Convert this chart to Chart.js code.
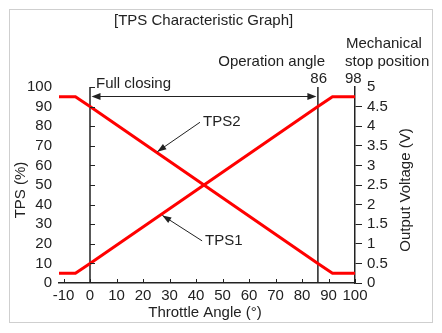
<!DOCTYPE html>
<html><head><meta charset="utf-8">
<script src="https://cdn.jsdelivr.net/npm/chart.js@4"></script>
<style>html,body{margin:0;padding:0;background:#fff;overflow:hidden}#wrap{width:442px;height:333px}</style>
</head><body><div id="wrap"><canvas id="c" width="442" height="333"></canvas></div>
<script>
// ---- data ----
const chartTitle = '[TPS Characteristic Graph]';
const xTitle = 'Throttle Angle (°)';
const yLeftTitle = 'TPS (%)';
const yRightTitle = 'Output Voltage (V)';
const xTicks = [-10, 0, 10, 20, 30, 40, 50, 60, 70, 80, 90, 100];
const yLeftTicks = [0, 10, 20, 30, 40, 50, 60, 70, 80, 90, 100];
const yRightTicks = [0, 0.5, 1, 1.5, 2, 2.5, 3, 3.5, 4, 4.5, 5];
const tps1Angles = [-11.7, -5.5, 0, 86, 91.5, 100];
const tps1Values = [5, 5, 10, 90, 95, 95];
const tps2Angles = [-11.7, -5.5, 0, 86, 91.5, 100];
const tps2Values = [95, 95, 90, 10, 5, 5];
const markerAngles = [0, 86];
const rangeLabel = 'Full closing';
const operationLabel = ['Operation angle', '86'];
const stopLabel = ['Mechanical', 'stop position', '98'];
const seriesNames = ['TPS1', 'TPS2'];

// ---- styles ----
const F = '"Liberation Sans", Arial, Helvetica, sans-serif';
const ink = '#222';
const red = '#ff0000';

function pts(xs, ys) { return xs.map((v, i) => ({ x: v, y: ys[i] })); }

function head(c, fx, fy, tx, ty, len, hw) {
  const a = Math.atan2(ty - fy, tx - fx);
  c.beginPath();
  c.moveTo(tx, ty);
  c.lineTo(tx - len * Math.cos(a) + hw * Math.sin(a), ty - len * Math.sin(a) - hw * Math.cos(a));
  c.lineTo(tx - len * Math.cos(a) - hw * Math.sin(a), ty - len * Math.sin(a) + hw * Math.cos(a));
  c.closePath();
  c.fill();
}

const decor = {
  id: 'decor',
  beforeDraw(chart) {
    const c = chart.ctx;
    c.save();
    c.fillStyle = '#fff';
    c.fillRect(0, 0, chart.width, chart.height);
    c.strokeStyle = '#cfcfcf';
    c.lineWidth = 1;
    c.strokeRect(9.5, 9.5, 423, 313);
    c.restore();
  },
  afterDraw(chart) {
    const c = chart.ctx;
    const x = chart.scales.x, y = chart.scales.y;
    c.save();
    c.strokeStyle = ink; c.fillStyle = ink; c.lineWidth = 1;
    // tick marks on the 0° line and bottom axis
    const x0 = x.getPixelForValue(markerAngles[0]);
    const yb = y.getPixelForValue(0);
    c.beginPath();
    yLeftTicks.forEach(v => {
      if (v === 0) return;
      const py = Math.round(y.getPixelForValue(v)) + 0.5;
      c.moveTo(x0, py); c.lineTo(x0 + 5, py);
    });
    xTicks.forEach(v => {
      const px = Math.round(x.getPixelForValue(v)) + 0.5;
      c.moveTo(px, yb); c.lineTo(px, yb - 4);
    });
    c.stroke();

    // double-headed range arrow
    const ay = Math.round(y.getPixelForValue(95.5)) + 0.5;
    const xa = x.getPixelForValue(markerAngles[0]) + 1.5;
    const xb = x.getPixelForValue(markerAngles[1]) - 1.5;
    c.beginPath(); c.moveTo(xa + 4, ay); c.lineTo(xb - 4, ay); c.stroke();
    head(c, xb - 10, ay, xa, ay, 9, 3.5);
    head(c, xa + 10, ay, xb, ay, 9, 3.5);

    // callouts
    const callouts = [
      { text: seriesNames[1], tail: { x: 41.5, y: 82 }, tip: { x: 25.4, y: 67 } },
      { text: seriesNames[0], tail: { x: 42.3, y: 21.5 }, tip: { x: 27.3, y: 34.5 } }
    ];
    c.font = '15px ' + F;
    c.textBaseline = 'middle';
    callouts.forEach(co => {
      const tx = x.getPixelForValue(co.tail.x), ty = y.getPixelForValue(co.tail.y);
      const px = x.getPixelForValue(co.tip.x), py = y.getPixelForValue(co.tip.y);
      c.beginPath(); c.moveTo(tx, ty); c.lineTo(px, py); c.stroke();
      head(c, tx, ty, px, py, 9, 3.2);
      c.textAlign = 'left';
      c.fillText(co.text, tx + 3, ty);
    });

    // texts
    c.textAlign = 'left';
    c.fillText(chartTitle, 114, 21);
    c.fillText(rangeLabel, 96, 84);
    c.textAlign = 'right';
    c.fillText(operationLabel[0], 325, 62);
    c.fillText(operationLabel[1], 327, 79);
    c.textAlign = 'left';
    c.fillText(stopLabel[0], 346, 44);
    c.fillText(stopLabel[1], 345, 62);
    c.fillText(stopLabel[2], 345, 79);

    // axis titles
    c.textAlign = 'center';
    c.fillText(xTitle, 205, 313);
    c.save(); c.translate(21, 190); c.rotate(-Math.PI / 2); c.fillText(yLeftTitle, 0, 0); c.restore();
    c.save(); c.translate(406, 190); c.rotate(-Math.PI / 2); c.fillText(yRightTitle, 0, 0); c.restore();
    c.restore();
  }
};

new Chart(document.getElementById('c'), {
  type: 'scatter',
  data: {
    datasets: [
      { label: seriesNames[0], data: pts(tps1Angles, tps1Values), showLine: true, borderColor: red, borderWidth: 3, pointRadius: 0, yAxisID: 'y' },
      { label: seriesNames[1], data: pts(tps2Angles, tps2Values), showLine: true, borderColor: red, borderWidth: 3, pointRadius: 0, yAxisID: 'y' },
      ...markerAngles.map(a => ({ data: [{ x: a, y: 0 }, { x: a, y: 100 }], showLine: true, borderColor: ink, borderWidth: 1.5, pointRadius: 0, yAxisID: 'y' }))
    ]
  },
  options: {
    responsive: false,
    devicePixelRatio: 1,
    animation: false,
    layout: { padding: { top: 87, left: 0, right: 0, bottom: 0 } },
    plugins: { legend: { display: false }, tooltip: { enabled: false }, title: { display: false } },
    scales: {
      x: {
        type: 'linear', position: 'bottom', min: -11.7, max: 100,
        afterBuildTicks: s => { s.ticks = xTicks.map(v => ({ value: v })); },
        afterFit: s => { s.height = 50; },
        grid: { display: false, drawTicks: false },
        border: { display: true, color: ink, width: 1.5 },
        ticks: { color: ink, font: { family: F, size: 15 }, padding: 4, maxRotation: 0, autoSkip: false }
      },
      y: {
        type: 'linear', position: 'left', min: 0, max: 100,
        afterBuildTicks: s => { s.ticks = yLeftTicks.map(v => ({ value: v })); },
        afterFit: s => { s.width = 59; },
        grid: { display: false, drawTicks: false },
        border: { display: false },
        ticks: { color: ink, font: { family: F, size: 15 }, padding: 7, autoSkip: false }
      },
      y2: {
        type: 'linear', position: 'right', min: 0, max: 5,
        afterBuildTicks: s => { s.ticks = yRightTicks.map(v => ({ value: v })); },
        afterFit: s => { s.width = 87; },
        grid: { display: true, drawOnChartArea: false, drawTicks: true, tickLength: 7, lineWidth: 1,
                color: ctx => (ctx.tick && ctx.tick.value === 5) ? 'rgba(0,0,0,0)' : ink },
        border: { display: true, color: ink, width: 1.5 },
        ticks: { color: ink, font: { family: F, size: 15 }, padding: 5, autoSkip: false, callback: v => String(v) }
      }
    }
  },
  plugins: [decor]
});
</script>
</body></html>
